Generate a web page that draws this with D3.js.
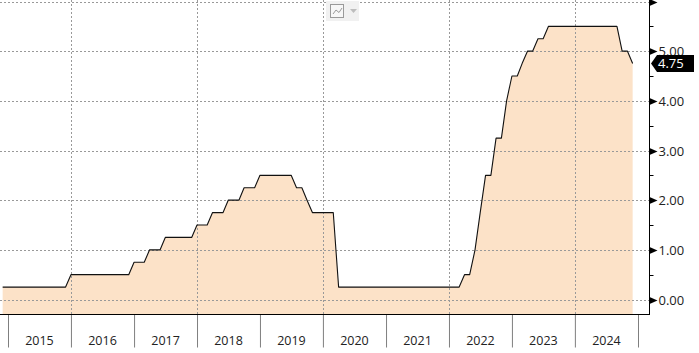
<!DOCTYPE html>
<html lang="en">
<head>
<meta charset="UTF-8">
<title>Policy rate</title>
<script src="https://d3js.org/d3.v7.min.js"></script>
<style>
    html, body { margin: 0; padding: 0; background: #fff; overflow: hidden; }
    svg { display: block; }
    text { font-family: "Open Sans", sans-serif; font-size: 12.5px; fill: #222; }
    .ylabel text, text.tag { font-size: 13px; }
    .grid { stroke: #999; stroke-width: 1; stroke-dasharray: 2 2; fill: none; shape-rendering: crispEdges; }
</style>
</head>
<body>
<svg id="canvas" width="699" height="353"></svg>
<script>
// monthly readings, first one is Dec 2014
const startMonth = [2014, 11]
const rate = [
    0.25,
    0.25,0.25,0.25,0.25,0.25,0.25,0.25,0.25,0.25,0.25,0.25,0.25,
    0.5,0.5,0.5,0.5,0.5,0.5,0.5,0.5,0.5,0.5,0.5,0.5,
    0.75,0.75,0.75,1,1,1,1.25,1.25,1.25,1.25,1.25,1.25,
    1.5,1.5,1.5,1.75,1.75,1.75,2,2,2,2.25,2.25,2.25,
    2.5,2.5,2.5,2.5,2.5,2.5,2.5,2.25,2.25,2,1.75,1.75,
    1.75,1.75,1.75,0.25,0.25,0.25,0.25,0.25,0.25,0.25,0.25,0.25,
    0.25,0.25,0.25,0.25,0.25,0.25,0.25,0.25,0.25,0.25,0.25,0.25,
    0.25,0.25,0.25,0.5,0.5,1,1.75,2.5,2.5,3.25,3.25,4,
    4.5,4.5,4.75,5,5,5.25,5.25,5.5,5.5,5.5,5.5,5.5,
    5.5,5.5,5.5,5.5,5.5,5.5,5.5,5.5,5.5,5,5,4.75
]
const years = [2015,2016,2017,2018,2019,2020,2021,2022,2023,2024]
const gridYears = [2016,2018,2020,2022,2024]
const majorTicks = [0,1,2,3,4,5,6]
const minorTicks = [0.5,1.5,2.5,3.5,4.5,5.5]
const labelTicks = [0,1,2,3,4,5]
const lastValue = 4.75

const width = 699, height = 353
const axisX = 649.5, axisY = 314.5

const svg = d3.select("#canvas")
const data = rate.map((d,i)=>({date:new Date(Date.UTC(startMonth[0],startMonth[1]+i,1)),value:d}))

const x = d3.scaleUtc().domain([new Date(Date.UTC(2015,0,1)),new Date(Date.UTC(2025,0,1))]).range([8,638])
const y = d3.scaleLinear().domain([0,6]).range([299.5,1.5])

// fill under the line
const area = d3.area().x(d=>x(d.date)).y0(axisY).y1(d=>y(d.value))
svg.append("path").datum(data).attr("d",area).attr("fill","#fce2c8")

// dotted grid
svg.append("g").selectAll("line").data(majorTicks).enter().append("line")
    .attr("class","grid")
    .attr("x1",0).attr("x2",axisX)
    .attr("y1",d=>Math.round(y(d))+.5).attr("y2",d=>Math.round(y(d))+.5)
svg.append("g").selectAll("line").data(gridYears).enter().append("line")
    .attr("class","grid")
    .attr("y1",0).attr("y2",axisY)
    .attr("x1",d=>Math.round(x(new Date(Date.UTC(d,0,1))))+.5)
    .attr("x2",d=>Math.round(x(new Date(Date.UTC(d,0,1))))+.5)

const line = d3.line().x(d=>x(d.date)).y(d=>y(d.value))
svg.append("path").datum(data).attr("d",line)
    .attr("fill","none").attr("stroke","#111").attr("stroke-width",1.1).attr("stroke-linejoin","round")

// bottom axis, year separators
const yearEdges = years.concat([2025]).map(d=>new Date(Date.UTC(d,0,1)))
const xAxis = d3.axisBottom(x).tickValues(yearEdges).tickSize(33).tickFormat("").tickSizeOuter(0)
const xg = svg.append("g").attr("transform",`translate(0,${axisY})`).call(xAxis)
xg.select(".domain").remove()
xg.selectAll(".tick line").attr("stroke","#7f7f7f").attr("stroke-width",1)
svg.append("line").attr("x1",0).attr("x2",axisX).attr("y1",axisY).attr("y2",axisY).attr("stroke","#000")

svg.append("g").selectAll("text").data(years).enter().append("text")
    .attr("x",d=>(x(new Date(Date.UTC(d,0,1)))+x(new Date(Date.UTC(d+1,0,1))))/2)
    .attr("y",345)
    .attr("text-anchor","middle")
    .text(d=>d)

// right axis
const yAxis = d3.axisRight(y).tickValues(labelTicks).tickFormat(d3.format(".2f")).tickSize(0).tickPadding(9)
const yg = svg.append("g").attr("class","ylabel").attr("transform",`translate(${axisX},0)`).call(yAxis)
yg.select(".domain").remove()
yg.selectAll(".tick text").attr("dy","0.36em")
svg.append("line").attr("x1",axisX).attr("x2",axisX).attr("y1",0).attr("y2",axisY+.5).attr("stroke","#000")
svg.append("g").selectAll("path").data(majorTicks).enter().append("path")
    .attr("d",d=>{
        const p = Math.round(y(d))+.5
        return `M${axisX},${p-3.5}L${axisX+8},${p}L${axisX},${p+3.5}Z`
    }).attr("fill","#000")
svg.append("g").selectAll("line").data(minorTicks).enter().append("line")
    .attr("x1",axisX).attr("x2",axisX+4)
    .attr("y1",d=>Math.round(y(d))+.5).attr("y2",d=>Math.round(y(d))+.5)
    .attr("stroke","#000")

// last value tag
const tagY = y(lastValue)
svg.append("path")
    .attr("d",`M651,${tagY}L657,${tagY-8.5}H694V${tagY+8.5}H657Z`)
    .attr("fill","#000")
svg.append("text").attr("class","tag").attr("x",658).attr("y",tagY).attr("dy","0.36em")
    .style("fill","#fff").text(d3.format(".2f")(lastValue))

// chart type button at the top
const btn = svg.append("g")
btn.append("rect").attr("x",326).attr("y",1).attr("width",33).attr("height",20).attr("fill","#f1f1f1")
btn.append("rect").attr("x",330.5).attr("y",4.5).attr("width",13).attr("height",13)
    .attr("fill","#f7f7f7").attr("stroke","#9a9a9a")
btn.append("path").attr("d","M333,14L336,10L339,12.5L342,8").attr("fill","none").attr("stroke","#9a9a9a")
btn.append("path").attr("d","M350,9H357L353.5,13Z").attr("fill","#bdbdbd")
</script>
</body>
</html>
